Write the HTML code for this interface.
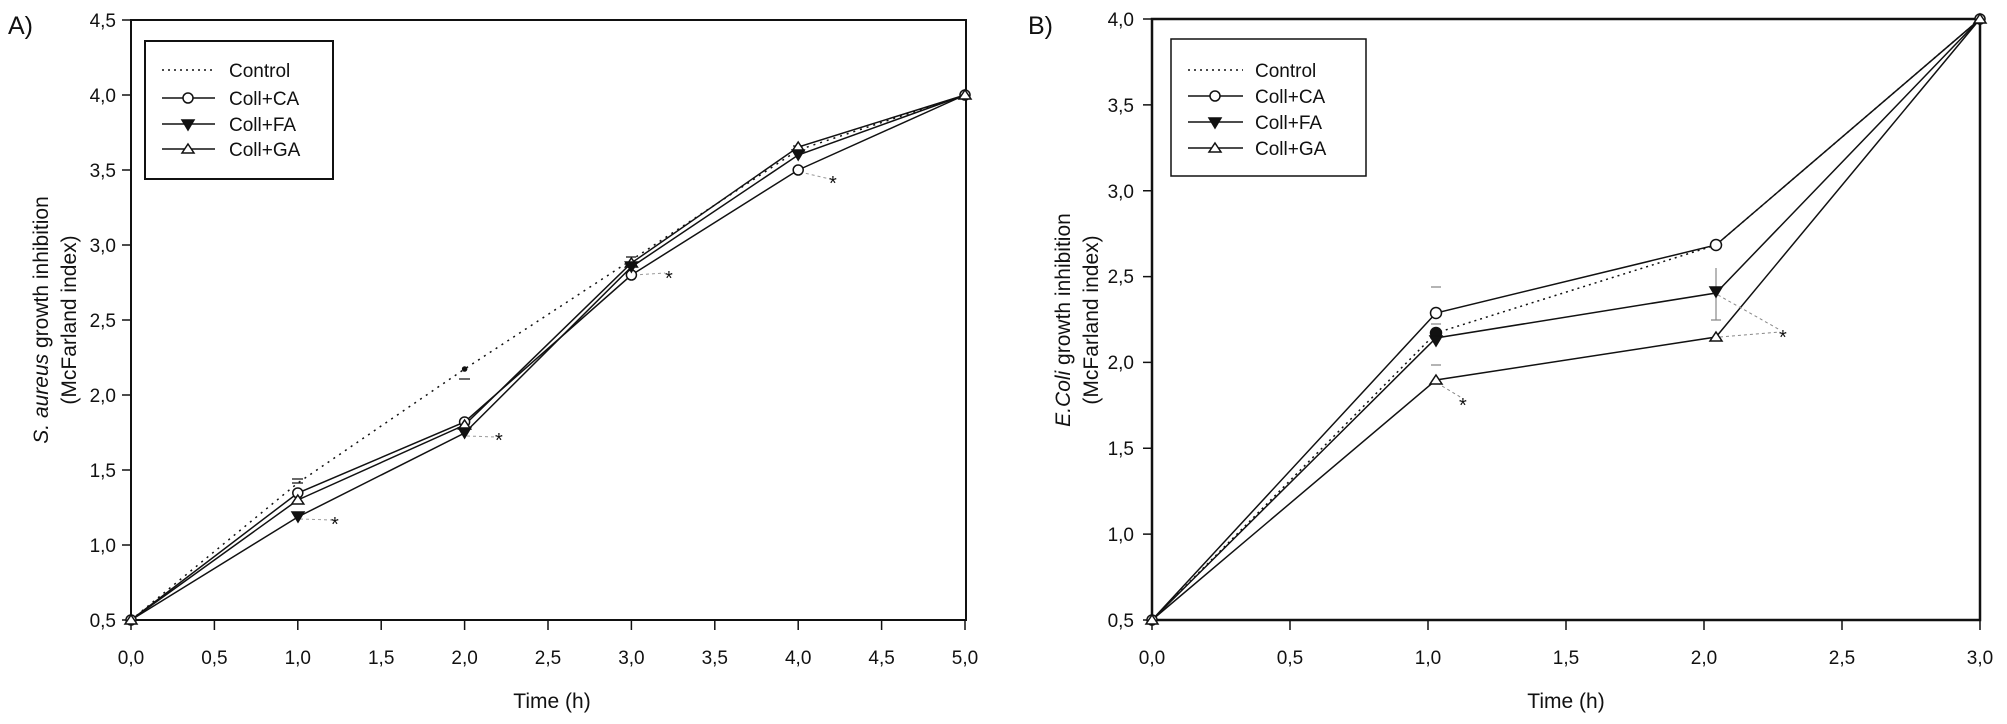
<!DOCTYPE html>
<html><head><meta charset="utf-8"><style>
html,body{margin:0;padding:0;background:#fff}
svg text{font-family:"Liberation Sans",Arial,sans-serif;fill:#111}
</style></head><body>
<svg width="2007" height="719" viewBox="0 0 2007 719" xmlns="http://www.w3.org/2000/svg">
<g stroke="#111" fill="none" stroke-width="1.5">
<rect x="131" y="20" width="835" height="600" stroke-width="2"/>
<path d="M122 20H131M122 95H131M122 170H131M122 245H131M122 320H131M122 395H131M122 470H131M122 545H131M122 620H131"/>
<path d="M131 620V630M214.4 620V630M297.8 620V630M381.2 620V630M464.6 620V630M548 620V630M631.4 620V630M714.8 620V630M798.2 620V630M881.6 620V630M965 620V630"/>
<rect x="1152" y="19" width="828" height="601" stroke-width="2.5"/>
<path d="M1143 19H1152M1143 104.9H1152M1143 190.7H1152M1143 276.6H1152M1143 362.4H1152M1143 448.3H1152M1143 534.1H1152M1143 620H1152"/>
<path d="M1152 620V630M1290 620V630M1428 620V630M1566 620V630M1704 620V630M1842 620V630M1980 620V630"/>
</g>
<g font-size="19" text-anchor="end">
<text x="116" y="27">4,5</text><text x="116" y="102">4,0</text><text x="116" y="177">3,5</text><text x="116" y="252">3,0</text><text x="116" y="327">2,5</text><text x="116" y="402">2,0</text><text x="116" y="477">1,5</text><text x="116" y="552">1,0</text><text x="116" y="627">0,5</text>
<text x="1134" y="26">4,0</text><text x="1134" y="112">3,5</text><text x="1134" y="198">3,0</text><text x="1134" y="283">2,5</text><text x="1134" y="369">2,0</text><text x="1134" y="455">1,5</text><text x="1134" y="541">1,0</text><text x="1134" y="627">0,5</text>
</g>
<g font-size="19" text-anchor="middle">
<text x="131" y="664">0,0</text><text x="214.4" y="664">0,5</text><text x="297.8" y="664">1,0</text><text x="381.2" y="664">1,5</text><text x="464.6" y="664">2,0</text><text x="548" y="664">2,5</text><text x="631.4" y="664">3,0</text><text x="714.8" y="664">3,5</text><text x="798.2" y="664">4,0</text><text x="881.6" y="664">4,5</text><text x="965" y="664">5,0</text>
<text x="1152" y="664">0,0</text><text x="1290" y="664">0,5</text><text x="1428" y="664">1,0</text><text x="1566" y="664">1,5</text><text x="1704" y="664">2,0</text><text x="1842" y="664">2,5</text><text x="1980" y="664">3,0</text>
<text x="552" y="708" font-size="21">Time (h)</text>
<text x="1566" y="708" font-size="21">Time (h)</text>
</g>
<text x="8" y="34" font-size="25">A)</text>
<text x="1028" y="34" font-size="25">B)</text>
<g font-size="21" text-anchor="middle">
<text transform="translate(48,320) rotate(-90)"><tspan font-style="italic">S. aureus</tspan> growth inhibition</text>
<text transform="translate(76,320) rotate(-90)">(McFarland index)</text>
<text transform="translate(1070,320) rotate(-90)"><tspan font-style="italic">E.Coli</tspan> growth inhibition</text>
<text transform="translate(1098,320) rotate(-90)">(McFarland index)</text>
</g>
<g stroke="#111" stroke-width="1.5" fill="none">
<rect x="145" y="41" width="188" height="138" stroke-width="2"/>
<path d="M162 70H215" stroke-dasharray="2,4"/>
<path d="M162 98H215M162 124H215M162 149H215"/>
<circle cx="188" cy="98" r="5" fill="#fff"/>
<path d="M182 120L194 120L188 130Z" fill="#111"/>
<path d="M188 144L194 153L182 153Z" fill="#fff"/>
<rect x="1171" y="39" width="195" height="137"/>
<path d="M1188 70H1243" stroke-dasharray="2,4"/>
<path d="M1188 96H1243M1188 122H1243M1188 148H1243"/>
<circle cx="1215" cy="96" r="5" fill="#fff"/>
<path d="M1209 118L1221 118L1215 128Z" fill="#111"/>
<path d="M1215 143L1221 152L1209 152Z" fill="#fff"/>
</g>
<g font-size="19">
<text x="229" y="77">Control</text><text x="229" y="105">Coll+CA</text><text x="229" y="131">Coll+FA</text><text x="229" y="156">Coll+GA</text>
<text x="1255" y="77">Control</text><text x="1255" y="103">Coll+CA</text><text x="1255" y="129">Coll+FA</text><text x="1255" y="155">Coll+GA</text>
</g>
<!-- Panel A series -->
<g fill="none" stroke="#111" stroke-width="1.5">
<polyline points="131,620 297.8,483 464.6,369 631.4,260 798.2,150 965,95" stroke-dasharray="2,5"/>
<polyline points="131,620 297.8,493 464.6,422 631.4,275 798.2,170 965,95"/>
<polyline points="131,620 297.8,517 464.6,433 631.4,267 798.2,155 965,95"/>
<polyline points="131,620 297.8,500 464.6,425 631.4,263 798.2,147 965,95"/>
<path d="M292 483H303M292 479H303M459 379H470M626 257H636M793 146H803" stroke-width="1.2"/>
<g stroke="#999" stroke-width="1" stroke-dasharray="3,3"><path d="M300 519L332 520M467 436L496 437M634 275L665 273M800 172L830 179"/></g>
<circle cx="464.6" cy="369" r="2" fill="#111"/>
<circle cx="297.8" cy="493" r="5" fill="#fff"/><circle cx="464.6" cy="422" r="5" fill="#fff"/><circle cx="631.4" cy="275" r="5" fill="#fff"/><circle cx="798.2" cy="170" r="5" fill="#fff"/>
<path d="M297.8 495l6 9h-12z M464.6 420l6 9h-12z M631.4 258l6 9h-12z M798.2 142l6 9h-12z" fill="#fff"/>
<path d="M292 512h12l-6 10z M458.6 428h12l-6 10z M625.4 262h12l-6 10z M792.2 150h12l-6 10z" fill="#111"/>
<circle cx="131" cy="620" r="5" fill="#fff"/><path d="M131 615l6 9h-12z" fill="#fff"/>
<circle cx="965" cy="95" r="5" fill="#fff"/><path d="M965 90l6 9h-12z" fill="#fff"/>
</g>
<g font-size="20">
<text x="331" y="531">*</text><text x="495" y="447">*</text><text x="665" y="285">*</text><text x="829" y="190">*</text>
</g>
<!-- Panel B series -->
<g fill="none" stroke="#111" stroke-width="1.5">
<polyline points="1152,620 1436,333 1716,245 1980,19" stroke-dasharray="2,4"/>
<polyline points="1152,620 1436,313 1716,245 1980,19"/>
<polyline points="1152,620 1436,338 1716,293 1980,19"/>
<polyline points="1152,620 1436,380 1716,337 1980,19"/>
<path d="M1431 287H1441M1431 324H1441M1431 365H1441M1716 268V320M1711 320H1721" stroke="#888" stroke-width="1.2"/>
<g stroke="#888" stroke-width="1" stroke-dasharray="3,3"><path d="M1437 383L1462 398M1718 295L1780 330M1720 337L1780 332"/></g>
<circle cx="1436" cy="333" r="5.5" fill="#111"/>
<circle cx="1436" cy="313" r="5.5" fill="#fff"/><circle cx="1716" cy="245" r="5.5" fill="#fff"/>
<path d="M1430 336h12l-6 10z M1710 287h12l-6 10z" fill="#111"/>
<path d="M1436 375l6 9h-12z M1716 332l6 9h-12z" fill="#fff"/>
<circle cx="1152" cy="620" r="5" fill="#fff"/><path d="M1152 615l6 9h-12z" fill="#fff"/>
<circle cx="1980" cy="19" r="5" fill="#fff"/><path d="M1980 14l6 9h-12z" fill="#fff"/>
</g>
<g font-size="20"><text x="1459" y="412">*</text><text x="1779" y="344">*</text></g>
</svg>
</body></html>
